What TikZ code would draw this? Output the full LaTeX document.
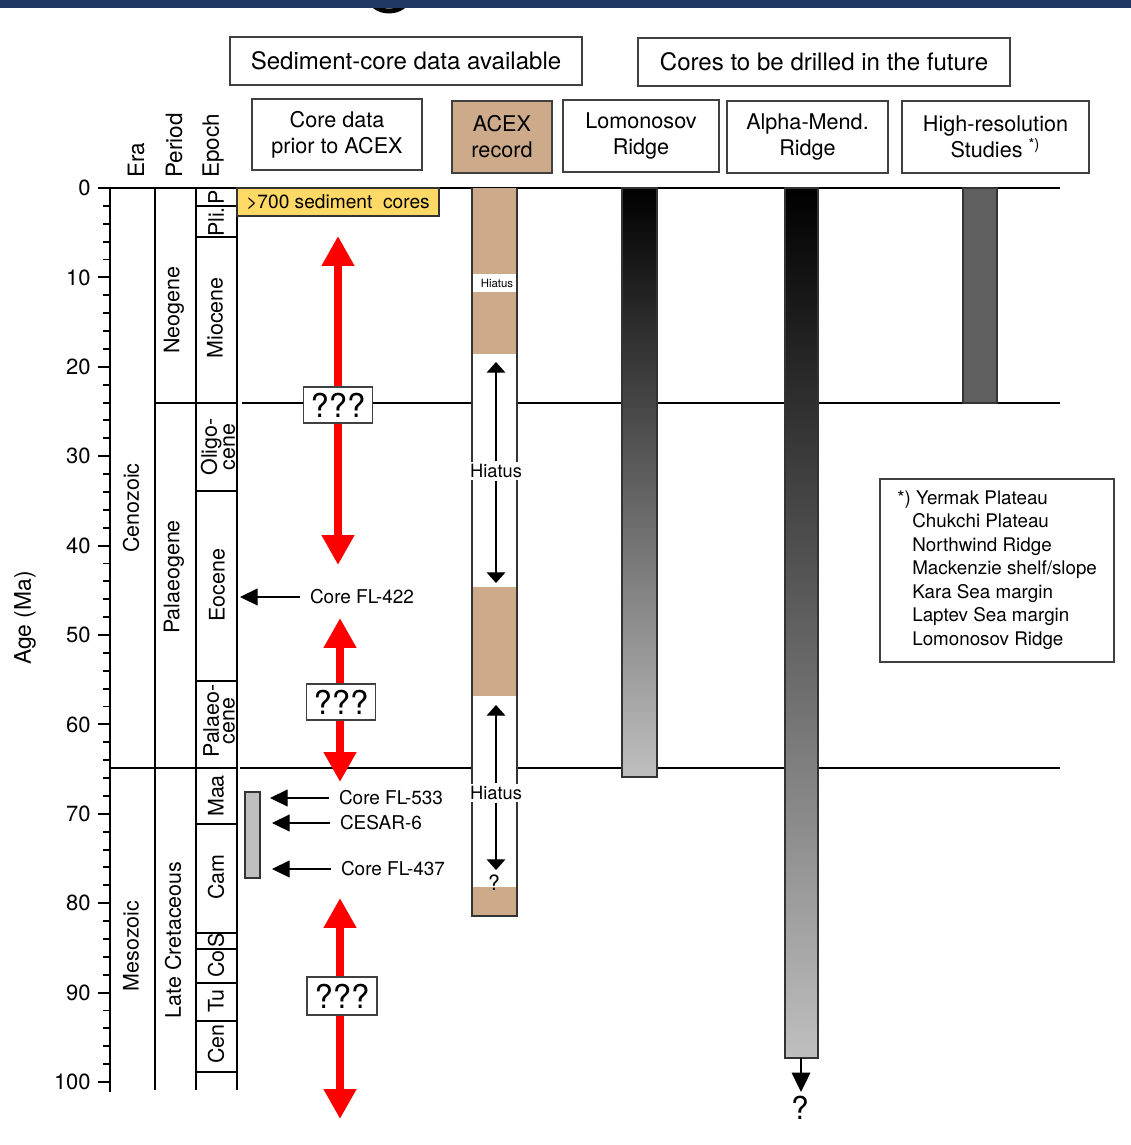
\documentclass[tikz,border=0pt]{standalone}
\usepackage{fontspec}
\setmainfont{TeX Gyre Heros}
\usepackage{tikz}
\usetikzlibrary{arrows.meta,calc,positioning,fit}
\definecolor{acextan}{RGB}{205,171,138}
\definecolor{coreyellow}{RGB}{255,217,102}
\definecolor{bandblue}{RGB}{30,58,100}
\definecolor{hiresgrey}{RGB}{95,95,95}

\begin{document}
\begin{tikzpicture}[x=0.02cm, y=-0.02cm,
  hdrbox/.style={draw=black!75, line width=0.7pt, inner sep=0pt, font=\fontsize{13.7}{16}\selectfont},
  subbox/.style={draw=black!75, line width=0.7pt, inner sep=0pt, align=center, minimum height=1.44cm, font=\fontsize{12.3}{14.7}\selectfont},
  scalelbl/.style={rotate=90, inner sep=0pt, align=center, font=\fontsize{12.2}{9}\selectfont},
  agelbl/.style={anchor=east, inner sep=0pt, font=\fontsize{12.5}{14}\selectfont},
  thickln/.style={line width=1.1pt},
  thinln/.style={line width=0.6pt},
  qbox/.style={draw=black!75, fill=white, line width=0.7pt, minimum width=1.38cm, minimum height=0.72cm, inner sep=0pt, font=\fontsize{18.7}{20}\selectfont},
  redarr/.style={red, line width=4.8pt, {Triangle[width=17.6pt,length=17pt]}-{Triangle[width=17.6pt,length=17pt]}},
  corelbl/.style={anchor=west, inner xsep=5.5pt, inner ysep=0pt, font=\fontsize{10.8}{13}\selectfont},
  corearr/.style={line width=0.6pt, -{Triangle[width=9.6pt,length=10pt]}},
  hiatus/.style={fill=white, inner xsep=0pt, inner ysep=1.5pt, font=\fontsize{10.4}{12}\selectfont},
  hiarr/.style={line width=0.6pt, -{Triangle[width=10.5pt,length=6pt]}},
  barline/.style={draw=black!80, line width=0.7pt}]
\useasboundingbox (0,0) rectangle (1131,1145);

\begin{scope}
\clip (0,0) rectangle (1131,20);
\draw[line width=2.8pt] (389,-3) ellipse [x radius=0.38cm, y radius=0.28cm];
\end{scope}
\fill[bandblue] (0,0) rectangle (1131,8);

\node[hdrbox, minimum width=7.04cm, minimum height=0.96cm] (sedhdr) at (406,61) {Sediment-core data available};
\node[hdrbox, minimum width=7.44cm, minimum height=0.96cm] (futhdr) at (824,62) {Cores to be drilled in the future};
\node[subbox, minimum width=3.4cm, minimum height=1.42cm] (prior) at (337,134.5) {Core data\\prior to ACEX};
\node[subbox, fill=acextan, minimum width=2.0cm] (acex) at (502,137) {ACEX\\record};
\node[subbox, minimum width=3.12cm] (lomo) at (641,136) {Lomonosov\\Ridge};
\node[subbox, minimum width=3.22cm] (alpha) at (807.5,137) {Alpha-Mend.\\Ridge};
\node[subbox, minimum width=3.74cm] (hires) at (995.5,137) {High-resolution\\Studies \textsuperscript{*)}};

\draw[thinln] (237,188) -- (1060,188);
\draw[thinln] (242,403) -- (1060,403);
\draw[thinln] (240,768) -- (1060,768);

\node[rotate=90, inner sep=0pt, font=\fontsize{13}{15}\selectfont] (agehdr) at (25,618) {Age (Ma)};
\foreach \a in {0,2,...,100}
  \draw[thickln] (103,{188+8.94*\a}) -- (110,{188+8.94*\a});
\foreach \a in {0,10,...,100} {
  \draw[thickln] (98,{188+8.94*\a}) -- (110,{188+8.94*\a});
  \node[agelbl] (age\a) at (91,{188+8.94*\a}) {\a};
}
\draw[thickln] (110,188) -- (237,188);
\draw[thickln] (110,188) -- (110,1092);
\draw[thickln] (155,188) -- (155,1090);
\draw[thickln] (196,188) -- (196,1090);
\draw[thickln] (237,188) -- (237,1090);
\draw[thickln] (110,768) -- (237,768);
\draw[thickln] (155,403) -- (237,403);
\foreach \yb in {206,237,491,681,824,933,949,983,1021,1072}
  \draw[thickln] (196,\yb) -- (236,\yb);

\node[scalelbl, anchor=west, font=\fontsize{12.8}{15}\selectfont] (erahdr) at (136,178) {Era};
\node[scalelbl, anchor=west, font=\fontsize{12.8}{15}\selectfont] (perhdr) at (174,178) {Period};
\node[scalelbl, anchor=west, font=\fontsize{12.8}{15}\selectfont] (ephdr) at (213,178) {Epoch};

\node[scalelbl] (ceno) at (131,508) {Cenozoic};
\node[scalelbl] (meso) at (131,946) {Mesozoic};
\node[scalelbl] (neog) at (174,310) {Neogene};
\node[scalelbl] (palg) at (174,577) {Palaeogene};
\node[scalelbl] (latecret) at (173,940) {Late Cretaceous};
\node[scalelbl] (pleist) at (216,197) {P};
\node[scalelbl] (plio) at (216,222) {Pli.};
\node[scalelbl] (mioc) at (215,318) {Miocene};
\node[scalelbl] (olig) at (218,447) {Oligo-\\cene};
\node[scalelbl] (eoc) at (217,585) {Eocene};
\node[scalelbl] (palc) at (219,721) {Palaeo-\\cene};
\node[scalelbl] (maa) at (216,796) {Maa};
\node[scalelbl] (cam) at (216,877) {Cam};
\node[scalelbl] (sant) at (216,940) {S};
\node[scalelbl] (coni) at (216,964) {Co};
\node[scalelbl] (turo) at (216,1001) {Tu};
\node[scalelbl] (ceno2) at (216,1044) {Cen};

\node[draw=black!80, fill=coreyellow, line width=0.7pt, minimum width=4.04cm, minimum height=0.56cm, inner sep=0pt, font=\fontsize{10.9}{13}\selectfont] (cores700) at (338,202) {>700 sediment~~cores};

\fill[white] (472,188) rectangle (517,916);
\fill[acextan] (472,188) rectangle (517,274);
\fill[acextan] (472,292) rectangle (517,354);
\fill[acextan] (472,587) rectangle (517,696);
\fill[acextan] (472,887) rectangle (517,916);
\draw[barline] (472,188) -- (472,916) -- (517,916) -- (517,188);
\node[inner sep=0pt, font=\fontsize{6.5}{8}\selectfont] (hiasmall) at (497,283) {Hiatus};

\shade[top color=black, middle color=black!45, bottom color=black!25] (622,188) rectangle (657,777);
\draw[barline] (622,188) rectangle (657,777);
\shade[top color=black, middle color=black!45, bottom color=black!25] (785,188) rectangle (818,1058);
\draw[barline] (785,188) rectangle (818,1058);
\filldraw[fill=hiresgrey, barline] (963,188) rectangle (997,403);

\coordinate (alphaend) at (801,1058);
\coordinate (alphatip) at (801,1092);
\node[inner sep=0pt, font=\fontsize{18}{20}\selectfont] (alphaq) at (800,1108) {?};
\draw[line width=1.1pt, -{Triangle[width=10.5pt,length=11pt]}] (alphaend) -- (alphatip);

\coordinate (q1top) at (338,236);
\coordinate (q1bot) at (338,565);
\draw[redarr] (q1top) -- (q1bot);
\node[qbox] (q1) at (338,405) {???};
\coordinate (q2top) at (340,618);
\coordinate (q2bot) at (340,782);
\draw[redarr] (q2top) -- (q2bot);
\node[qbox] (q2) at (341,702) {???};
\coordinate (q3top) at (340,898);
\coordinate (q3bot) at (340,1119);
\draw[redarr] (q3top) -- (q3bot);
\node[qbox, minimum width=1.4cm, minimum height=0.76cm] (q3) at (342,996) {???};

\filldraw[fill=black!25, draw=black!80, line width=0.6pt] (245,792) rectangle (260,878);
\coordinate (t422) at (240,597);
\node[corelbl] (fl422) at (300,597) {Core FL-422};
\draw[corearr] (fl422.west) -- (t422);
\coordinate (t533) at (270,798);
\node[corelbl] (fl533) at (329,798) {Core FL-533};
\draw[corearr] (fl533.west) -- (t533);
\coordinate (tcesar) at (272,823);
\node[corelbl] (cesar) at (330,823) {CESAR-6};
\draw[corearr] (cesar.west) -- (tcesar);
\coordinate (t437) at (272,869);
\node[corelbl] (fl437) at (331,869) {Core FL-437};
\draw[corearr] (fl437.west) -- (t437);

\node[hiatus] (hia1) at (496,471) {Hiatus};
\coordinate (up1) at (496,362);
\coordinate (dn1) at (496,583);
\draw[hiarr] (hia1.north) -- (up1);
\draw[hiarr] (hia1.south) -- (dn1);
\node[hiatus] (hia2) at (496,793) {Hiatus};
\coordinate (up2) at (496,705);
\coordinate (dn2) at (496,870);
\draw[hiarr] (hia2.north) -- (up2);
\draw[hiarr] (hia2.south) -- (dn2);
\node[inner sep=0pt, font=\fontsize{12}{14}\selectfont] (acexq) at (494,883) {?};

\node[draw=black!75, line width=0.7pt, minimum width=4.68cm, minimum height=3.66cm] (legend) at (997,570.5) {};
\node[anchor=west, inner sep=0pt, align=left, font=\fontsize{10.7}{13.4}\selectfont] (legendtxt) at (897,570) {*) Yermak Plateau\\\hspace*{8.5pt}Chukchi Plateau\\\hspace*{8.5pt}Northwind Ridge\\\hspace*{8.5pt}Mackenzie shelf/slope\\\hspace*{8.5pt}Kara Sea margin\\\hspace*{8.5pt}Laptev Sea margin\\\hspace*{8.5pt}Lomonosov Ridge};
\end{tikzpicture}
\end{document}
